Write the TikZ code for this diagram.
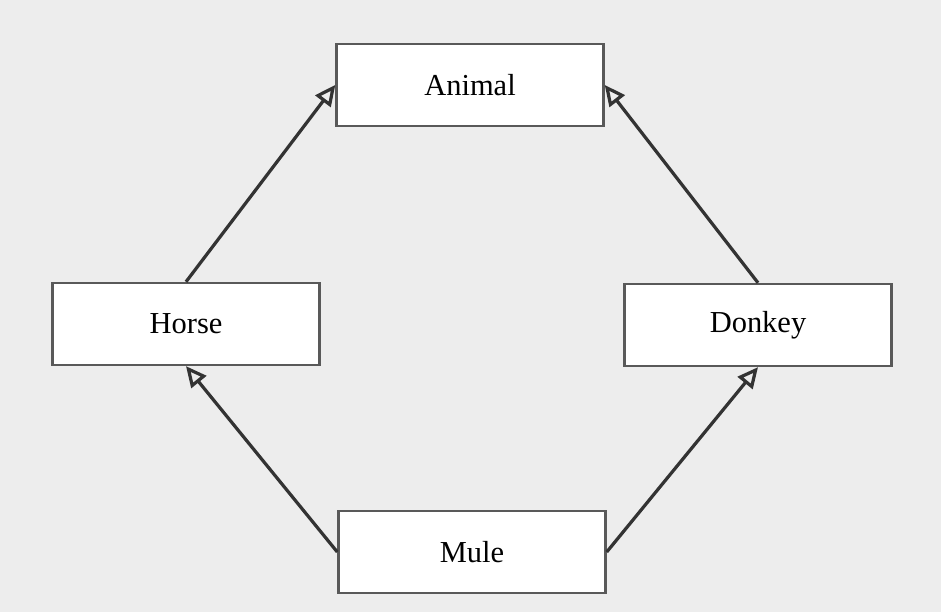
\documentclass[tikz,border=0pt]{standalone}
\usepackage{fontspec}
\setmainfont{Liberation Serif}
\usetikzlibrary{arrows.meta}

\begin{document}
\begin{tikzpicture}[x=0.012cm, y=-0.012cm,
  classbox/.style={draw=black!65, line width=0.9pt, fill=white,
    minimum width=3.2cm, minimum height=0.98cm, font=\fontsize{10.4}{12}\selectfont},
  inherit/.style={-{Triangle[open, length=7pt, width=6.5pt]}, line width=1.1pt, black!80}]
  \fill[black!7] (0,0) rectangle (941,612);
  \useasboundingbox (0,0) rectangle (941,612);
  \node[classbox] (animal) at (470,85) {Animal};
  \node[classbox] (horse) at (186,324) {Horse};
  \node[classbox] (donkey) at (758,325) {Donkey};
  \node[classbox] (mule) at (472,552) {Mule};
  \draw[inherit] (horse.north) -- (animal.west);
  \draw[inherit] (donkey.north) -- (animal.east);
  \draw[inherit] (mule.west) -- (horse.south);
  \draw[inherit] (mule.east) -- (donkey.south);
\end{tikzpicture}
\end{document}
